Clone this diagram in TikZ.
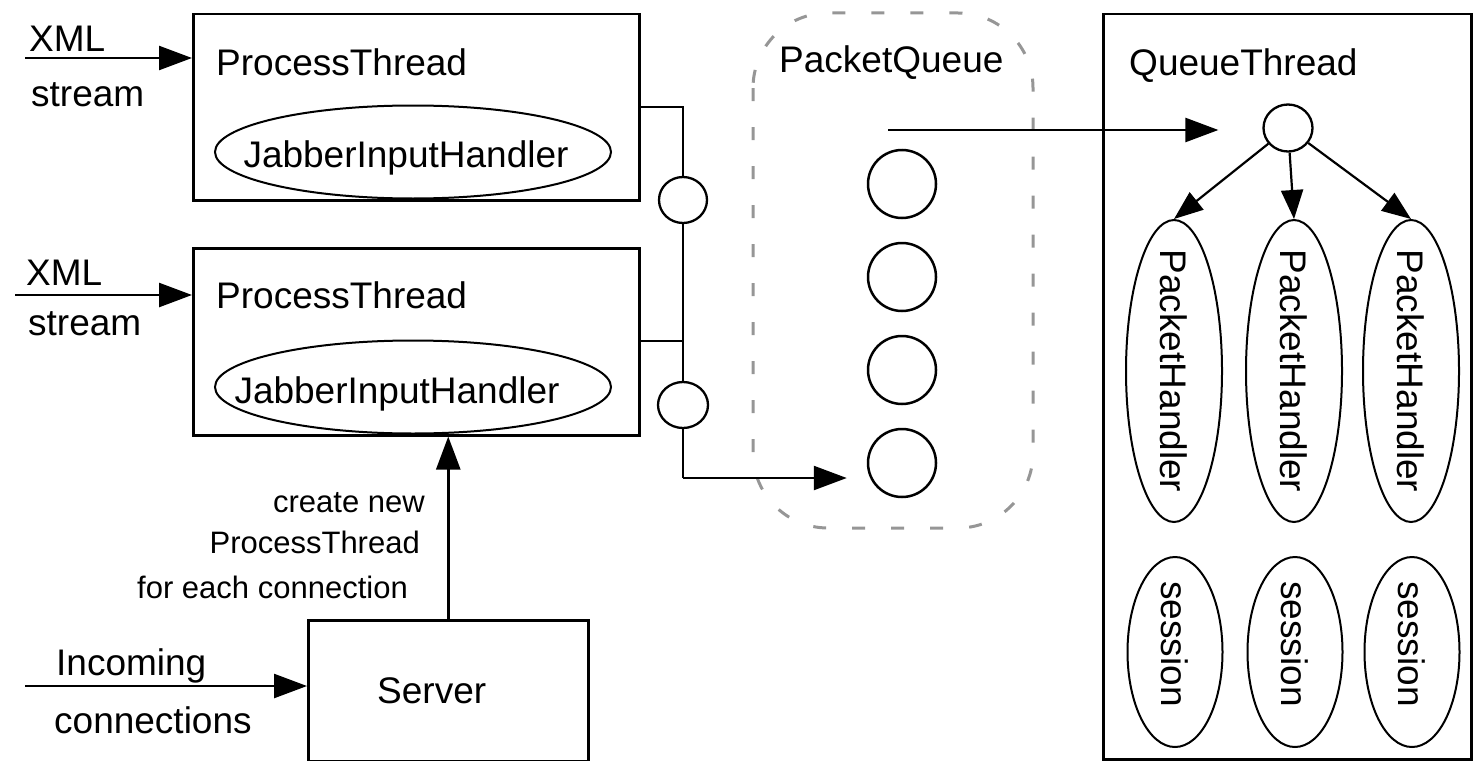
\documentclass[tikz,border=0pt]{standalone}
\usepackage{fontspec}
\setmainfont{Liberation Sans}
\usetikzlibrary{arrows.meta,shapes.geometric}

\definecolor{queuegray}{RGB}{150,150,150}

\begin{document}
\begin{tikzpicture}[x=1pt,y=-1pt,
  txt/.style={inner sep=0pt, font=\fontsize{37}{40}\selectfont},
  smalltxt/.style={inner sep=0pt, anchor=base east, font=\fontsize{31}{34}\selectfont},
  box/.style={draw, line width=2.5pt, anchor=north west, inner sep=0pt},
  oval/.style={draw, ellipse, line width=2pt, inner sep=0pt},
  ring/.style={draw, circle, line width=2.5pt, inner sep=0pt, minimum size=68pt},
  dot/.style={draw, ellipse, line width=2.3pt, inner sep=0pt},
  wire/.style={line width=2.5pt},
  arr/.style={line width=2.5pt, -{Triangle[length=33pt,width=24pt]}},
  arrsmall/.style={line width=2.2pt, -{Triangle[length=29pt,width=22pt]}},
  queuebox/.style={draw=queuegray, line width=3pt, dash pattern=on 13pt off 26pt, rounded corners=75pt}
]
\useasboundingbox (0,0) rectangle (1474,760);

% --- process threads ---
\node[box, minimum width=446pt, minimum height=186pt] (pt1) at (192,13) {};
\node[box, minimum width=446pt, minimum height=187pt] (pt2) at (192,247) {};
\node[txt, anchor=base west] (pt1lbl) at (216,75) {ProcessThread};
\node[txt, anchor=base west] (pt2lbl) at (216,308) {ProcessThread};
\node[oval, minimum width=396pt, minimum height=93pt] (jih1) at (413,152) {};
\node[oval, minimum width=396pt, minimum height=93pt] (jih2) at (413,387) {};
\node[txt, anchor=base] (jih1lbl) at (406,167) {JabberInputHandler};
\node[txt, anchor=base] (jih2lbl) at (397,403) {JabberInputHandler};

% --- incoming XML streams ---
\coordinate (xin1) at (25,58);
\coordinate (xin2) at (15,295);
\node[txt, anchor=base west] (xml1) at (29,52) {XML};
\node[txt, anchor=base west] (str1) at (31,106) {stream};
\node[txt, anchor=base west] (xml2) at (26,285) {XML};
\node[txt, anchor=base west] (str2) at (28,335) {stream};
\draw[arr] (xin1) -- (xin1 -| pt1.west);
\draw[arr] (xin2) -- (xin2 -| pt2.west);

% --- server ---
\node[box, minimum width=280pt, minimum height=141pt] (srv) at (307,619) {};
\node[txt, anchor=base west] (srvlbl) at (377,703) {Server};
\coordinate (inc) at (25,686);
\node[txt, anchor=base west] (inc1) at (56,675) {Incoming};
\node[txt, anchor=base west] (inc2) at (54,733) {connections};
\draw[arr] (inc) -- (inc -| srv.west);
\draw[arr] (srv.north) -- (srv.north |- pt2.south);
\node[smalltxt] (cr1) at (425,512) {create new};
\node[smalltxt] (cr2) at (420,553) {ProcessThread};
\node[smalltxt] (cr3) at (408,598) {for each connection};

% --- packet queue ---
\draw[queuebox] (753,13) rectangle (1033,528);
\node[txt, anchor=base west] (pqlbl) at (779,73) {PacketQueue};
\node[ring] (q1) at (902,184) {};
\node[ring] (q2) at (902,277) {};
\node[ring] (q3) at (902,370) {};
\node[ring] (q4) at (902,463) {};

% --- bus from the process threads into the queue ---
\coordinate (bus1) at (683,107);
\coordinate (bus2) at (683,341);
\coordinate (busend) at (683,478);
\node[dot, minimum width=48pt, minimum height=46pt] (s1) at (683,200) {};
\node[dot, minimum width=50pt, minimum height=46pt] (s2) at (683,405) {};
\draw[wire] (pt1.east |- bus1) -- (bus1) -- (s1.north);
\draw[wire] (s1.south) -- (s2.north);
\draw[wire] (pt2.east |- bus2) -- (bus2);
\draw[wire] (s2.south) -- (busend);
\draw[arr, shorten >=20pt] (busend) -- (busend -| q4.west);

% --- queue thread ---
\node[box, minimum width=368pt, minimum height=745pt] (qt) at (1102,13) {};
\node[txt, anchor=base west] (qtlbl) at (1129,75) {QueueThread};
\node[dot, minimum width=49pt, minimum height=47pt] (hub) at (1288,128) {};
\coordinate (qout) at (888,130);
\draw[arr, shorten >=44pt] (qout) -- (qout -| hub.west);

\node[oval, minimum width=96pt, minimum height=302pt] (ph1) at (1174,371) {};
\node[oval, minimum width=96pt, minimum height=302pt] (ph2) at (1294,371) {};
\node[oval, minimum width=96pt, minimum height=302pt] (ph3) at (1411,371) {};
\node[txt, rotate=-90] (ph1lbl) at (ph1.center) {PacketHandler};
\node[txt, rotate=-90] (ph2lbl) at (ph2.center) {PacketHandler};
\node[txt, rotate=-90] (ph3lbl) at (ph3.center) {PacketHandler};
\draw[arrsmall] (hub) -- (ph1.north);
\draw[arrsmall] (hub) -- (ph2.north);
\draw[arrsmall] (hub) -- (ph3.north);

\node[oval, minimum width=95pt, minimum height=190pt] (se1) at (1175,652) {};
\node[oval, minimum width=95pt, minimum height=190pt] (se2) at (1295,652) {};
\node[oval, minimum width=95pt, minimum height=190pt] (se3) at (1412,652) {};
\node[txt, rotate=-90] (se1lbl) at (1175,644) {session};
\node[txt, rotate=-90] (se2lbl) at (1295,644) {session};
\node[txt, rotate=-90] (se3lbl) at (1412,644) {session};
\end{tikzpicture}
\end{document}
